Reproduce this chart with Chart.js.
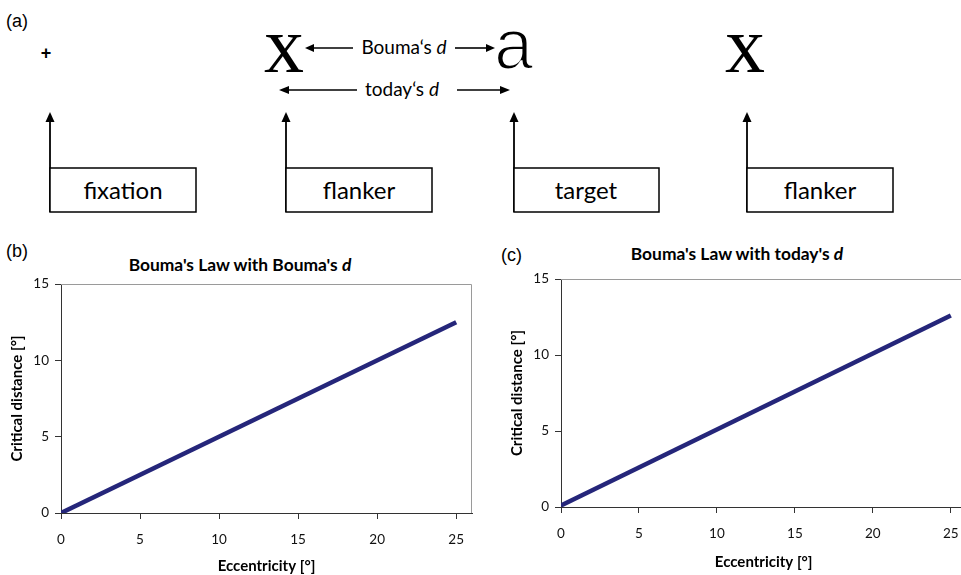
<!DOCTYPE html>
<html>
<head>
<meta charset="utf-8">
<script src="https://cdn.jsdelivr.net/npm/chart.js@4.4.1/dist/chart.umd.min.js"></script>
<style>
  html, body { margin: 0; padding: 0; background: #fff; }
  body { width: 961px; height: 575px; position: relative; overflow: hidden; font-family: Lato, sans-serif; color: #000; }
  #diagram { position: absolute; left: 0; top: 0; }
  .lbl { position: absolute; font-family: "Liberation Sans", Arial, sans-serif; font-size: 18px; line-height: 1; }
  .title { position: absolute; font-family: Lato, sans-serif; font-weight: bold; font-size: 17.4px; white-space: nowrap; line-height: 1; transform: translate(-50%, -50%); }
  canvas { position: absolute; }
</style>
</head>
<body>

<!-- (a) schema -->
<svg id="diagram" width="961" height="230" xmlns="http://www.w3.org/2000/svg">
  <text x="6" y="27" font-family="Liberation Sans" font-size="18">(a)</text>
  <text x="46" y="59" font-family="Liberation Sans" font-size="18" font-weight="bold" text-anchor="middle">+</text>

  <text x="284" y="72" font-family="Liberation Serif" font-size="80" text-anchor="middle">x</text>
  <text x="514" y="69" font-family="Liberation Mono" font-size="72" text-anchor="middle" stroke="#fff" stroke-width="2.2">a</text>
  <text x="745" y="72" font-family="Liberation Serif" font-size="80" text-anchor="middle">x</text>

  <g stroke="#000" stroke-width="1.6" fill="none">
    <line x1="313" y1="48" x2="353" y2="48"/>
    <line x1="455" y1="48" x2="487" y2="48"/>
    <line x1="288" y1="90" x2="357" y2="90"/>
    <line x1="457" y1="90" x2="501" y2="90"/>
  </g>
  <g fill="#000">
    <polygon points="305,48 314,44 314,52"/>
    <polygon points="495,48 486,44 486,52"/>
    <polygon points="279,90 289,86 289,94"/>
    <polygon points="510,90 500,86 500,94"/>
  </g>
  <text x="404" y="54" font-family="Lato" font-size="19" text-anchor="middle">Bouma‘s <tspan font-style="italic">d</tspan></text>
  <text x="402" y="96" font-family="Lato" font-size="19" text-anchor="middle">today‘s <tspan font-style="italic">d</tspan></text>

  <g stroke="#000" stroke-width="1.8" fill="none">
    <line x1="50" y1="120" x2="50" y2="212"/>
    <line x1="286" y1="120" x2="286" y2="212"/>
    <line x1="514" y1="120" x2="514" y2="212"/>
    <line x1="747" y1="120" x2="747" y2="212"/>
  </g>
  <g fill="#000">
    <polygon points="50,112 45.5,122 54.5,122"/>
    <polygon points="286,112 281.5,122 290.5,122"/>
    <polygon points="514,112 509.5,122 518.5,122"/>
    <polygon points="747,112 742.5,122 751.5,122"/>
  </g>
  <g stroke="#000" stroke-width="1.5" fill="#fff">
    <rect x="50" y="168" width="146" height="44"/>
    <rect x="286" y="168" width="146" height="44"/>
    <rect x="514" y="168" width="145" height="44"/>
    <rect x="747" y="168" width="146" height="44"/>
  </g>
  <g font-family="Lato" font-size="24" text-anchor="middle">
    <text x="123" y="199">fixation</text>
    <text x="359" y="199">flanker</text>
    <text x="586" y="199">target</text>
    <text x="820" y="199">flanker</text>
  </g>
</svg>

<div class="lbl" style="left:6px; top:242px;">(b)</div>
<div class="lbl" style="left:501px; top:246px;">(c)</div>
<div class="title" style="left:240px; top:265px;">Bouma's Law with Bouma's <i>d</i></div>
<div class="title" style="left:737px; top:254px;">Bouma's Law with today's <i>d</i></div>

<canvas id="chartB" width="480" height="335" style="left:0px; top:240px;"></canvas>
<canvas id="chartC" width="490" height="335" style="left:480px; top:240px;"></canvas>

<script>
// données
const eccentricity = [0, 25];
const critBouma = [0, 12.5];
const critToday = [0.1, 12.6];
const xTickValues = [0, 5, 10, 15, 20, 25];
const yTickValues = [0, 5, 10, 15];

const lineColor = '#25267a';
const tickFont = { family: 'Lato', size: 13.5 };
const titleFont = { family: 'Lato', size: 15, weight: 'bold' };

// cadre gris en haut et à droite (style Excel)
const framePlugin = {
  id: 'frame',
  beforeDatasetsDraw(chart) {
    const { ctx, chartArea: a } = chart;
    ctx.save();
    ctx.strokeStyle = '#9a9a9a';
    ctx.lineWidth = 1;
    ctx.beginPath();
    ctx.moveTo(a.left, a.top + 0.5);
    ctx.lineTo(a.right - 0.5, a.top + 0.5);
    ctx.lineTo(a.right - 0.5, a.bottom);
    ctx.stroke();
    ctx.restore();
  }
};

function makeChart(id, ys, cfg) {
  const ctx = document.getElementById(id).getContext('2d');
  return new Chart(ctx, {
    type: 'line',
    data: {
      datasets: [{
        data: eccentricity.map((x, i) => ({ x: x, y: ys[i] })),
        borderColor: lineColor,
        borderWidth: 4.5,
        pointRadius: 0,
        tension: 0,
        borderCapStyle: 'butt'
      }]
    },
    options: {
      responsive: false,
      animation: false,
      layout: { padding: cfg.padding },
      plugins: { legend: { display: false }, tooltip: { enabled: false } },
      scales: {
        x: {
          type: 'linear',
          min: 0,
          max: 26,
          afterBuildTicks: s => { s.ticks = xTickValues.map(v => ({ value: v })); },
          afterFit: s => { s.height = cfg.xHeight; s.paddingLeft = 0; s.paddingRight = 0; },
          grid: { drawOnChartArea: false, drawTicks: true, tickLength: 6, color: '#333' },
          border: { color: '#333', width: 1 },
          ticks: { font: tickFont, color: '#111', padding: 13, maxRotation: 0 },
          title: { display: true, text: 'Eccentricity [°]', font: titleFont, color: '#000', padding: { top: 0, bottom: cfg.xTitlePad } }
        },
        y: {
          type: 'linear',
          min: 0,
          max: 15,
          afterBuildTicks: s => { s.ticks = yTickValues.map(v => ({ value: v })); },
          afterFit: s => { s.width = 61; },
          grid: { drawOnChartArea: false, drawTicks: true, tickLength: 6, color: '#333' },
          border: { color: '#333', width: 1 },
          ticks: { font: tickFont, color: '#111', padding: 6 },
          title: { display: true, text: 'Critical distance [°]', font: titleFont, color: '#000', padding: { top: 8, bottom: 0 } }
        }
      }
    },
    plugins: [framePlugin]
  });
}

makeChart('chartB', critBouma, { padding: { top: 44, right: 8, left: 0, bottom: 0 }, xHeight: 62, xTitlePad: 0 });
makeChart('chartC', critToday, { padding: { top: 39, right: 3.6, left: 20, bottom: 0 }, xHeight: 68, xTitlePad: 4 });
</script>
</body>
</html>
